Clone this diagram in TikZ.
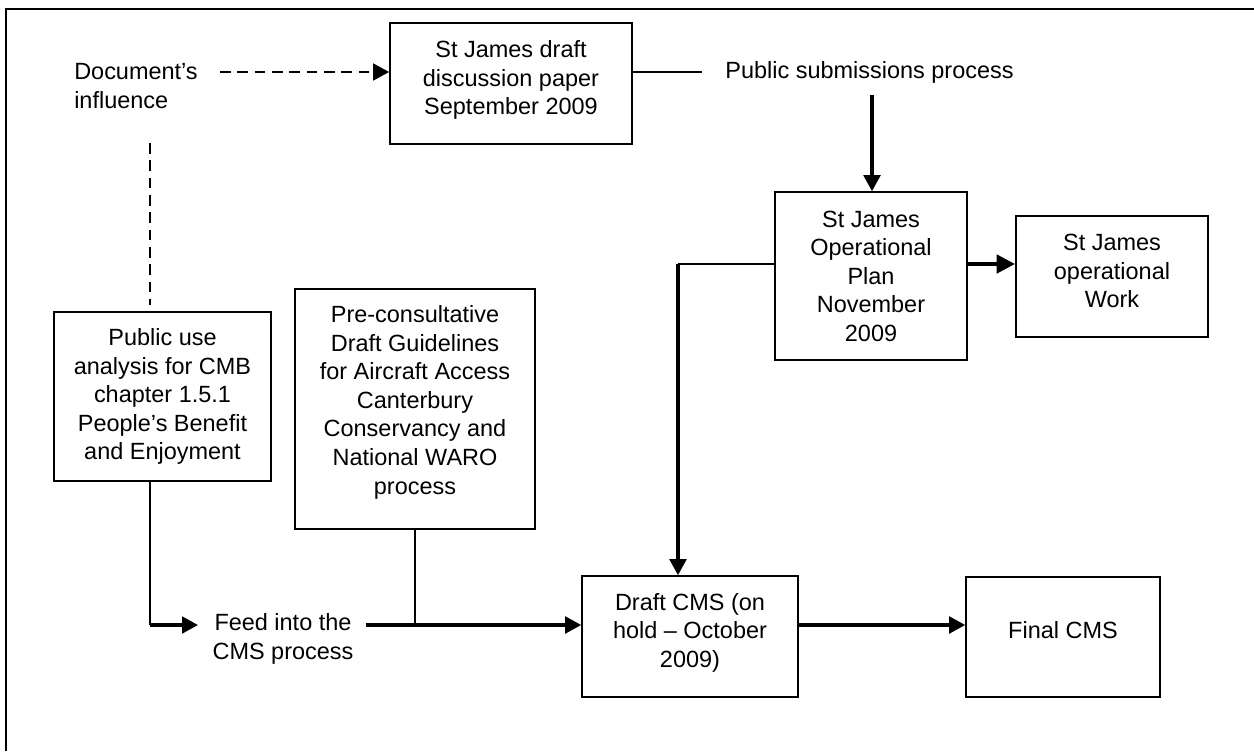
\documentclass[tikz,border=0pt]{standalone}
\usepackage{fontspec}
\setmainfont{Liberation Sans}
\usetikzlibrary{arrows.meta}
\newcommand\diafont{\fontsize{17.6}{21.4}\selectfont}
\begin{document}
\begin{tikzpicture}[x=0.75pt,y=-0.75pt,
  box/.style={draw, line width=1.2pt, inner sep=0pt},
  txt/.style={inner sep=0pt, align=center, font=\diafont},
  thinline/.style={line width=1.2pt},
  medline/.style={line width=2.3pt},
  thickline/.style={line width=3.5pt},
  dashline/.style={line width=1.9pt, dash pattern=on 8pt off 5pt},
  tip/.style={-{Triangle[length=12pt,width=12.5pt]}},
  bigtip/.style={-{Triangle[length=14pt,width=13.5pt]}}]
\useasboundingbox (0,0) rectangle (1254,751);
% frame
\coordinate (bl) at (6,751);
\coordinate (tl) at (6,9);
\coordinate (tr) at (1254,9);
\draw[line width=1.5pt] (bl) -- (tl) -- (tr);

% boxes
\node[box, minimum width=181.5pt, minimum height=90.75pt] (sjd) at (511,83.5) {};
\node[box, minimum width=144pt, minimum height=126pt] (op) at (871,276) {};
\node[box, minimum width=144pt, minimum height=90.75pt] (work) at (1112,276.5) {};
\node[box, minimum width=162.75pt, minimum height=126.75pt] (pua) at (162.5,396.5) {};
\node[box, minimum width=180pt, minimum height=180pt] (pre) at (415,409) {};
\node[box, minimum width=162pt, minimum height=90.75pt] (draft) at (690,636.5) {};
\node[box, minimum width=145.5pt, minimum height=90pt] (final) at (1063,637) {};

% texts
\node[txt, align=left, anchor=west] (doc) at (74,86) {Document’s\\influence};
\node[txt] (pub) at (869.5,72) {Public submissions process};
\node[txt] (feed) at (283,639) {Feed into the\\CMS process};
\node[txt] (sjdT) at ([yshift=2.5pt]sjd.center) {St James draft\\discussion paper\\September 2009};
\node[txt] (opT) at (op.center) {St James\\Operational\\Plan\\November\\2009};
\node[txt] (workT) at ([yshift=4pt]work.center) {St James\\operational\\Work};
\node[txt] (puaT) at (pua.center) {Public use\\analysis for CMB\\chapter 1.5.1\\People’s Benefit\\and Enjoyment};
\node[txt] (preT) at ([yshift=5pt]pre.center) {Pre-consultative\\Draft Guidelines\\for Aircraft Access\\Canterbury\\Conservancy and\\National WARO\\process};
\node[txt] (draftT) at ([yshift=3pt]draft.center) {Draft CMS (on\\hold – October\\2009)};
\node[txt] (finalT) at ([yshift=5pt]final.center) {Final CMS};

% connectors
\coordinate (dA) at (220,72);
\draw[dashline, tip] (dA) -- (dA -| sjd.west);
\coordinate (dV1) at (150,143);
\coordinate (dV2) at (150,305);
\draw[dashline] (dV1) -- (dV2);
\coordinate (pubL) at (702,72);
\draw[thinline] (dA -| sjd.east) -- (pubL);
\coordinate (vA) at (872,95);
\draw[medline, tip] (vA) -- (vA |- op.north);
\coordinate (opy) at (0,264);
\draw[thickline, bigtip] (opy -| op.east) -- (opy -| work.west);
\coordinate (cA) at (678,264);
\draw[thinline] (opy -| op.west) -- (cA);
\draw[medline, tip] (cA) -- (cA |- draft.north);
\coordinate (cB) at (150,625);
\draw[thinline] (cB |- pua.south) -- (cB);
\coordinate (fA) at (198,625);
\draw[medline, tip] (cB) -- (fA);
\coordinate (fB) at (366,625);
\draw[medline, tip] (fB) -- (fB -| draft.west);
\draw[thinline] (pre.south) -- (pre.south |- fB);
\draw[medline, tip] (fB -| draft.east) -- (fB -| final.west);
\end{tikzpicture}
\end{document}
